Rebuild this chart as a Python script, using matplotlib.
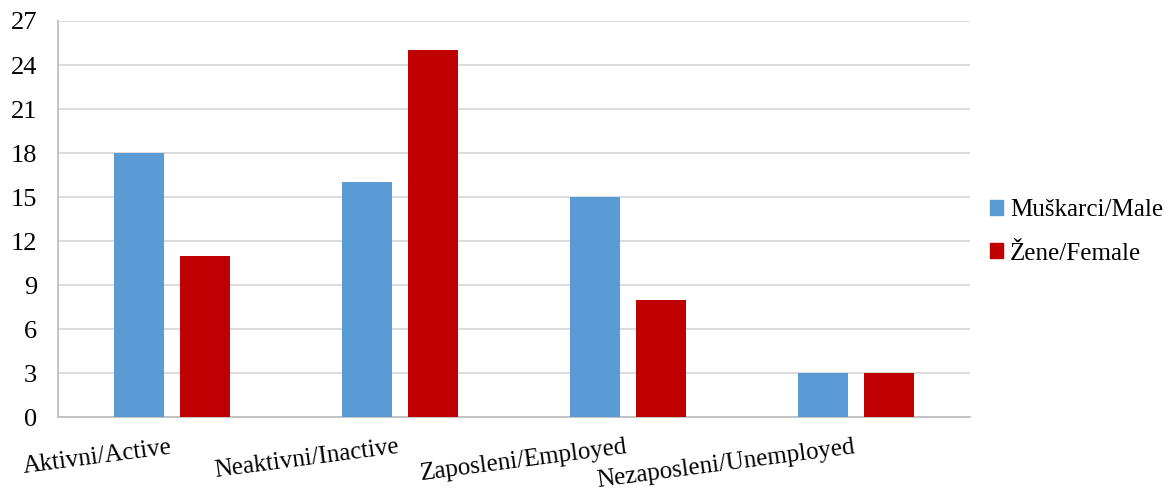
import matplotlib
matplotlib.use("Agg")
import matplotlib.pyplot as plt
import numpy as np
from matplotlib.patches import Patch

categories = ["Aktivni/Active", "Neaktivni/Inactive", "Zaposleni/Employed", "Nezaposleni/Unemployed"]
male = [18, 16, 15, 3]
female = [11, 25, 8, 3]
series_names = ["Muškarci/Male", "Žene/Female"]
yticks = [0, 3, 6, 9, 12, 15, 18, 21, 24, 27]

plt.rcParams['font.family'] = ['Liberation Serif', 'DejaVu Serif']

fig = plt.figure(figsize=(11.64, 4.91), dpi=100)
ax = fig.add_axes([58/1164, 74/491, (970-58)/1164, (417-21)/491])

x = np.arange(len(categories))
w = 0.22
off = 0.143
c_m = '#5B9BD5'
c_f = '#C00000'
ax.bar(x - off, male, w, color=c_m, zorder=3)
ax.bar(x + off, female, w, color=c_f, zorder=3)

ax.set_xlim(-0.5, len(categories) - 0.5)
ax.set_ylim(0, 27)
ax.set_yticks(yticks)
ax.set_yticklabels([str(t) for t in yticks], fontsize=19)
ax.tick_params(axis='y', length=0, pad=15)
ax.yaxis.grid(True, color='#D9D9D9', linewidth=1.3, zorder=0)
ax.set_axisbelow(True)
for s in ['top', 'right']:
    ax.spines[s].set_visible(False)
ax.spines['left'].set_color('#BFBFBF')
ax.spines['bottom'].set_color('#BFBFBF')
ax.spines['left'].set_linewidth(1.3)
ax.spines['bottom'].set_linewidth(1.3)

ax.set_xticks(x)
ax.set_xticklabels([])
ax.tick_params(axis='x', length=0)

for i, lab in enumerate(categories):
    ax.text(i, -36/396, lab, transform=ax.get_xaxis_transform(),
            rotation=7.5, rotation_mode='anchor', ha='right', va='baseline', fontsize=18)

handles = [Patch(color=c_m), Patch(color=c_f)]
fig.legend(handles, series_names, loc='center left', bbox_to_anchor=(990/1164, 1 - 232/491),
           frameon=False, fontsize=18, handlelength=0.52, handleheight=0.52,
           handletextpad=0.28, labelspacing=0.84, borderpad=0, borderaxespad=0)

fig.savefig("out.png", dpi=100)
